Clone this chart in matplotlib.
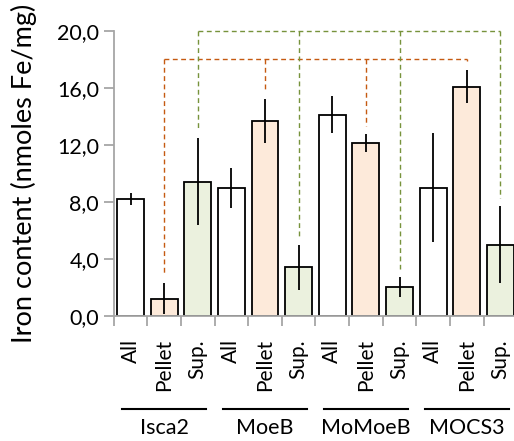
import matplotlib
matplotlib.use("Agg")
import matplotlib.pyplot as plt
import matplotlib.transforms as mtransforms
import numpy as np

plt.rcParams['font.family'] = ['Lato', 'DejaVu Sans']

groups = ["Isca2", "MoeB", "MoMoeB", "MOCS3"]
fractions = ["All", "Pellet", "Sup."]
values = [8.2, 1.2, 9.4,
          9.0, 13.7, 3.4,
          14.1, 12.1, 2.0,
          9.0, 16.1, 5.0]
errors = [0.45, 1.1, 3.05,
          1.4, 1.55, 1.6,
          1.3, 0.63, 0.7,
          3.85, 1.16, 2.7]
fill_colors = {"All": "#FFFFFF", "Pellet": "#FDEADA", "Sup.": "#EBF1DE"}
bracket_colors = {"Pellet": "#C55A11", "Sup.": "#77933C"}
bracket_levels = {"Pellet": 18.0, "Sup.": 20.0}
yticks = [0, 4, 8, 12, 16, 20]

fig = plt.figure(figsize=(5.14, 4.41), dpi=100)
ax = fig.add_axes([0.2212, 0.2841, 0.785, 0.6456])

n = len(values)
x = np.arange(n)
labels = [fractions[i % 3] for i in range(n)]
colors = [fill_colors[l] for l in labels]
ax.bar(x, values, width=0.8, color=colors, edgecolor="#000000", linewidth=1.3, zorder=2)
ax.errorbar(x, values, yerr=errors, fmt="none", ecolor="#000000", elinewidth=1.3, capsize=0, zorder=3)

# dashed brackets
gap = 0.6
dash = (0, (3.5, 2.5))
for frac in ["Pellet", "Sup."]:
    idx = [i for i in range(n) if labels[i] == frac]
    lvl = bracket_levels[frac]
    c = bracket_colors[frac]
    ax.plot([x[idx[0]], x[idx[-1]]], [lvl, lvl], ls=dash, color=c, lw=1.0, clip_on=False, zorder=1)
    for i in idx:
        ax.plot([x[i], x[i]], [lvl, values[i] + errors[i] + gap], ls=dash, color=c, lw=1.0,
                clip_on=False, zorder=1)

ax.set_xlim(-0.5, n - 0.5)
ax.set_ylim(0, 20)
ax.set_yticks(yticks)
ax.set_yticklabels([f"{v:.1f}".replace(".", ",") for v in yticks], fontsize=15.5)
fig.text(24 / 514, 1 - 173 / 441, "Iron content (nmoles Fe/mg)", rotation=90,
         ha="center", va="center", fontsize=19.5)

ax.set_xticks(x)
ax.set_xticklabels(labels, rotation=90, fontsize=15, va="top")
ax.set_xticks(np.arange(n + 1) - 0.5, minor=True)
ax.tick_params(axis="x", which="major", length=0, pad=17)
ax.tick_params(axis="x", which="minor", length=7, color="#A6A6A6", width=1.3, direction="out")
ax.tick_params(axis="y", length=7, color="#A6A6A6", width=1.3, direction="out")

for s in ["top", "right"]:
    ax.spines[s].set_visible(False)
for s in ["left", "bottom"]:
    ax.spines[s].set_color("#A6A6A6")
    ax.spines[s].set_linewidth(1.3)

trans = mtransforms.blended_transform_factory(ax.transData, fig.transFigure)
for g, name in enumerate(groups):
    x0 = 3 * g - 0.5 + 0.25
    x1 = 3 * g + 2.5 - 0.25
    ax.plot([x0, x1], [0.0725, 0.0725], color="#000000", lw=1.5, transform=trans, clip_on=False)
    ax.text(3 * g + 1, 0.03, name, transform=trans, ha="center", va="center", fontsize=15.5)

fig.savefig("out.png", dpi=100)
